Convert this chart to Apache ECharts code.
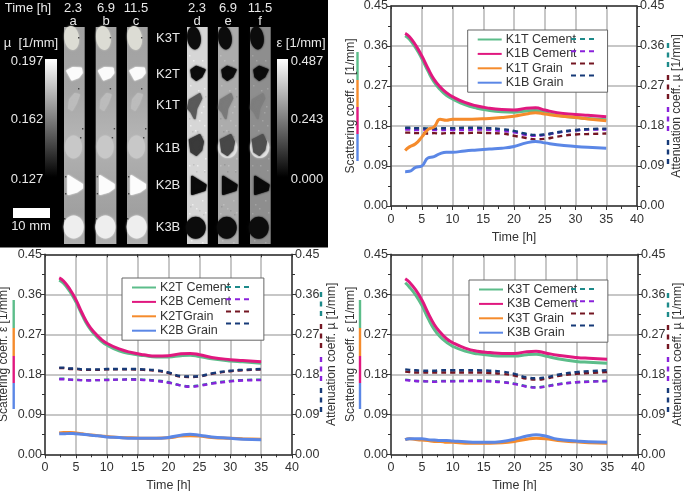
<!DOCTYPE html>
<html><head><meta charset="utf-8">
<style>html,body{margin:0;padding:0;background:#fff}#c{width:685px;height:491px}</style>
<script src="https://cdn.jsdelivr.net/npm/echarts@6/dist/echarts.min.js"></script>
</head><body><div id="c"></div>
<script>
const time=[2.3,3,4,5,6,7,8,9,10,12,14,16,18,20,22,23.5,25,27,30,32,35];
const yTicks=[0,0.09,0.18,0.27,0.36,0.45];
// Panel K1
const k1tCement=[.383,.375,.356,.332,.304,.279,.262,.249,.241,.228,.22,.215,.212,.211,.214,.215,.21,.204,.199,.197,.194];
const k1bCement=[.3885,.381,.362,.338,.31,.285,.268,.255,.246,.233,.225,.22,.217,.216,.22,.221,.216,.21,.206,.204,.201];
const k1tGrain=[.125,.133,.14,.155,.172,.178,.195,.193,.195,.195,.196,.197,.199,.202,.207,.21,.207,.203,.199,.196,.192];
const k1bGrain=[.077,.078,.087,.09,.108,.111,.118,.121,.121,.124,.126,.128,.13,.134,.142,.145,.142,.138,.134,.132,.13];
const k1tCementMu=[.175,.175,.174,.174,.174,.173,.174,.174,.174,.175,.175,.174,.172,.168,.162,.159,.16,.165,.17,.172,.173];
const k1bCementMu=[.172,.172,.171,.171,.171,.171,.171,.171,.171,.171,.172,.171,.169,.166,.16,.158,.16,.165,.17,.172,.172];
const k1tGrainMu=[.165,.165,.164,.164,.163,.164,.163,.164,.164,.164,.165,.164,.163,.158,.153,.15,.151,.156,.161,.162,.163];
const k1bGrainMu=[.176,.176,.175,.175,.174,.174,.175,.175,.175,.176,.176,.175,.173,.169,.162,.16,.161,.166,.171,.173,.174];
// Panel K2
const k2tCement=[.392,.385,.367,.343,.314,.288,.27,.256,.246,.233,.226,.222,.219,.219,.222,.223,.22,.215,.21,.208,.205];
const k2bCement=[.397,.39,.372,.348,.318,.292,.274,.26,.25,.237,.229,.224,.221,.222,.226,.227,.224,.218,.213,.211,.208];
const k2tGrain=[.048,.049,.049,.048,.046,.044,.043,.041,.04,.038,.037,.036,.036,.037,.041,.042,.041,.038,.036,.035,.034];
const k2bGrain=[.046,.046,.047,.046,.045,.044,.042,.041,.039,.038,.036,.036,.036,.038,.043,.045,.043,.039,.036,.034,.033];
const k2tCementMu=[.17,.17,.168,.168,.167,.167,.167,.167,.168,.168,.169,.168,.166,.162,.155,.153,.155,.16,.165,.167,.168];
const k2bCementMu=[.169,.169,.168,.167,.167,.166,.167,.167,.167,.168,.168,.167,.165,.161,.155,.152,.154,.159,.164,.166,.167];
const k2tGrainMu=[.194,.194,.192,.192,.19,.19,.19,.19,.191,.191,.191,.19,.188,.183,.175,.174,.175,.181,.187,.189,.191];
const k2bGrainMu=[.195,.195,.193,.193,.191,.191,.191,.191,.192,.192,.192,.191,.189,.184,.176,.175,.176,.182,.188,.19,.192];
// Panel K3
const k3tCement=[.386,.376,.358,.335,.306,.281,.264,.252,.243,.232,.226,.223,.221,.221,.224,.225,.221,.215,.209,.207,.205];
const k3bCement=[.395,.387,.37,.347,.318,.292,.274,.26,.251,.239,.232,.229,.227,.227,.231,.232,.228,.223,.218,.216,.214];
const k3tGrain=[.033,.035,.033,.032,.031,.029,.029,.027,.027,.025,.025,.025,.026,.029,.034,.036,.035,.031,.028,.026,.025];
const k3bGrain=[.033,.035,.035,.035,.033,.032,.031,.031,.03,.028,.027,.027,.029,.034,.041,.044,.041,.034,.03,.028,.027];
const k3tCementMu=[.168,.167,.165,.165,.164,.164,.165,.165,.165,.165,.166,.165,.163,.159,.153,.151,.153,.158,.162,.164,.165];
const k3bCementMu=[.167,.166,.165,.164,.164,.163,.164,.164,.164,.165,.165,.164,.162,.158,.152,.15,.152,.157,.162,.163,.165];
const k3tGrainMu=[.186,.185,.184,.184,.184,.184,.184,.184,.184,.184,.184,.183,.181,.177,.17,.168,.17,.176,.181,.183,.185];
const k3bGrainMu=[.191,.19,.189,.188,.188,.188,.189,.189,.189,.189,.189,.188,.186,.181,.173,.171,.173,.179,.185,.187,.189];

const GREEN='#5cbd8a',PINK='#e0187f',ORANGE='#f58b2c',BLUE='#5b87e6';
const TEAL='#1d8a8a',PURPLE='#8a22dc',DRED='#741622',NAVY='#163a78';
const FONT='"Liberation Sans",Arial,sans-serif';

const panels=[
 {left:391,right:637,top:6,bottom:206,
  names:['K1T Cement','K1B Cement','K1T Grain','K1B Grain'],
  solid:[k1tCement,k1bCement,k1tGrain,k1bGrain],dash:[k1tCementMu,k1bCementMu,k1tGrainMu,k1bGrainMu],
  box:[467.7,30,131],dashLeft:570,bar:{x:357.5,ys:[52,80,107,134,161]},rbar:{x:668,ys:[43,70,75,103,107,133,140,165]},gapL:34,gapR:34},
 {left:45,right:292,top:254.3,bottom:454.3,
  names:['K2T Cement','K2B Cement','K2TGrain','K2B Grain'],
  solid:[k2tCement,k2bCement,k2tGrain,k2bGrain],dash:[k2tCementMu,k2bCementMu,k2tGrainMu,k2bGrainMu],
  box:[122,278,133],dashLeft:225,bar:{x:13.7,ys:[300,328,356,383,409]},rbar:{x:321,ys:[292,318,324,351,357,382,388,415]},gapL:35,gapR:34},
 {left:391,right:638,top:254.3,bottom:454.3,
  names:['K3T Cement','K3B Cement','K3T Grain','K3B Grain'],
  solid:[k3tCement,k3bCement,k3tGrain,k3bGrain],dash:[k3tCementMu,k3bCementMu,k3tGrainMu,k3bGrainMu],
  box:[469,280,130],dashLeft:570,bar:{x:360,ys:[300,328,356,383,409]},rbar:{x:668,ys:[293,318,325,352,357,382,388,413]},gapL:34,gapR:34}
];
const solidColors=[GREEN,PINK,ORANGE,BLUE];
const dashColors=[TEAL,PURPLE,DRED,NAVY];
const axisCol='#333';

const grid=[],xAxis=[],yAxis=[],series=[],legend=[],graphic=[];
panels.forEach((p,i)=>{
  grid.push({left:p.left,top:p.top,width:p.right-p.left,height:p.bottom-p.top,outerBoundsMode:'none'});
  const split={show:true,lineStyle:{color:'#b4b4b4',width:1.5}};
  xAxis.push({type:'value',gridIndex:i,min:0,max:40,interval:5,position:'bottom',name:'Time [h]',nameLocation:'middle',nameGap:25,
    nameTextStyle:{fontFamily:FONT,fontSize:12.5,color:axisCol},
    axisLine:{onZero:false,lineStyle:{color:axisCol,width:1.5}},axisTick:{length:4,lineStyle:{color:axisCol,width:1}},
    minorTick:{show:true,splitNumber:2,length:3,lineStyle:{color:axisCol}},
    axisLabel:{fontFamily:FONT,fontSize:12.5,color:axisCol,margin:7},splitLine:split});
  xAxis.push({type:'value',gridIndex:i,min:0,max:40,interval:5,position:'top',
    axisLine:{onZero:false,lineStyle:{color:axisCol,width:1.5}},axisTick:{inside:true,length:3,lineStyle:{color:axisCol}},
    axisLabel:{show:false},splitLine:{show:false}});
  const y={type:'value',gridIndex:i,min:yTicks[0],max:yTicks[5],interval:yTicks[1],nameLocation:'middle',nameRotate:90,
    nameTextStyle:{fontFamily:FONT,fontSize:12,color:axisCol},
    axisLine:{onZero:false,show:true,lineStyle:{color:axisCol,width:1.5}},axisTick:{show:true,length:4,lineStyle:{color:axisCol}},
    minorTick:{show:true,splitNumber:2,length:3,lineStyle:{color:axisCol}},
    axisLabel:{fontFamily:FONT,fontSize:12.5,color:axisCol,margin:3,formatter:v=>v.toFixed(2)}};
  yAxis.push(Object.assign({},y,{position:'left',name:'Scattering coeff. ε [1/mm]',nameGap:p.gapL,splitLine:split}));
  yAxis.push(Object.assign({},y,{position:'right',name:'Attenuation coeff. µ [1/mm]',nameGap:p.gapR,splitLine:{show:false}}));
  const xb=i*2,yl=i*2,yr=i*2+1;
  p.dash.forEach((d,k)=>series.push({type:'line',name:p.names[k]+' µ',xAxisIndex:xb,yAxisIndex:yr,showSymbol:false,symbol:'none',smooth:0.5,
    z:3,lineStyle:{color:dashColors[k],width:2.4,type:[5,4]},itemStyle:{color:dashColors[k]},data:d.map((v,j)=>[time[j],v])}));
  p.solid.forEach((d,k)=>series.push({type:'line',name:p.names[k],xAxisIndex:xb,yAxisIndex:yl,showSymbol:false,symbol:'none',smooth:0.5,
    z:4,lineStyle:{color:solidColors[k],width:3},itemStyle:{color:solidColors[k]},data:d.map((v,j)=>[time[j],v])}));
  const hidden={color:'transparent',borderWidth:0,opacity:0};
  legend.push({left:p.box[0],top:p.box[1],orient:'vertical',data:p.names,itemWidth:24,itemHeight:12,itemGap:1.4,itemStyle:hidden,
    padding:[3,p.box[2]-100,3,9],backgroundColor:'#fff',borderColor:'#666',borderWidth:1,selectedMode:false,
    textStyle:{fontFamily:FONT,fontSize:12.5,color:axisCol,padding:[0,0,0,-1]}});
  legend.push({left:p.dashLeft,top:p.box[1],orient:'vertical',data:p.names.map(n=>n+' µ'),itemWidth:25,itemHeight:12,itemGap:1.4,itemStyle:hidden,
    padding:[3,0,3,0],selectedMode:false,formatter:()=>'',z:8});
  // colour keys beside the axis titles
  p.bar.ys.slice(0,4).forEach((y0,k)=>graphic.push({type:'line',shape:{x1:p.bar.x,y1:y0,x2:p.bar.x,y2:p.bar.ys[k+1]},
    style:{stroke:[GREEN,ORANGE,PINK,BLUE][k],lineWidth:2.4}}));
  [TEAL,DRED,PURPLE,NAVY].forEach((c,k)=>graphic.push({type:'line',shape:{x1:p.rbar.x,y1:p.rbar.ys[k*2],x2:p.rbar.x,y2:p.rbar.ys[k*2+1]},
    style:{stroke:c,lineWidth:2.4,lineDash:[5,4.5]}}));
});

// --- image panel (decorative tomogram strips) ---
const stripsMu=[64,95.7,127], stripsEps=[187,218,250];
const stripTop=27, stripBottom=244, stripWidth=20.7;
const epsBack=['#d6d6d6','#acacac','#8e8e8e'];
const epsK1T=['#5a5a5a','#7a7a7a','#7e7e7e'];
const epsK1B=['#3a3a3a','#484848','#505050'];
const muK2T=[[3.3,71],[9,68],[17,68.5],[17.7,73],[14.5,77],[8,79.5],[5.5,75]];
const muK1T=[[6,100],[11,94],[15,95],[12,103],[8,110],[5,108]];
const muK2B=[[4.3,176],[18,184.5],[18,188],[13,191.5],[4.3,194]];
const epsK2T=[[4.3,70],[9.3,66.7],[17.7,70],[14.3,76.7],[9.3,80],[5.3,76.7]];
const epsK1Tp=[[2.7,100],[12.7,94],[14.3,98.3],[9.3,108.3],[7.7,118.3],[4.3,111.7],[1,108.3]];
const epsK1Bp=[[2.7,140],[12.7,135],[16,141.7],[14.3,150],[9.3,155],[4.3,151.7]];
const epsK2B=[[5,176.7],[18.7,185],[17.7,190],[5,194]];
const speckle=[[2,55],[15,60],[3,85],[17,88],[14,112],[17,125],[3,125],[8,130],[18,158],[2,165],[10,165],[5,204],[15,200],[9,208],[2,213],[18,212],[6,60],[11,90],[16,106],[1,140],[17,170],[12,120],[4,240],[15,242]];
const muDots=[[14,37],[18,128],[16,137],[1,176],[1,193],[0,218],[14,88]];

const gfx=[];
const rect=(x,y,w,h,fill)=>gfx.push({type:'rect',shape:{x,y,width:w,height:h},style:{fill}});
const blur=(c,b)=>({fill:c,shadowBlur:b==null?2:b,shadowColor:c});
const poly=(x0,pts,c)=>gfx.push({type:'polygon',shape:{points:pts.map(q=>[x0+q[0],q[1]])},
  style:Object.assign(blur(c),{stroke:c,lineWidth:2,lineJoin:'round'})});
const ell=(cx,cy,rx,ry,c,rot)=>gfx.push({type:'ellipse',shape:{cx,cy,rx,ry},rotation:rot||0,originX:cx,originY:cy,style:blur(c)});
const txt=(x,y,t,fs,align)=>gfx.push({type:'text',x,y,style:{text:t,fill:'#e8e8e8',font:(fs||13)+'px '+FONT,align:align||'center',verticalAlign:'middle'}});

rect(0,0,328,247.5,'#000');
stripsMu.forEach(x0=>{
  gfx.push({type:'rect',shape:{x:x0,y:stripTop,width:stripWidth,height:stripBottom-stripTop},
    style:{fill:new echarts.graphic.LinearGradient(0,0,0,1,[{offset:0,color:'#a2a2a2'},{offset:.3,color:'#a6a6a6'},{offset:.5,color:'#b4b4b4'},{offset:.7,color:'#a8a8a8'},{offset:.85,color:'#a0a0a0'},{offset:1,color:'#b0b0b0'}])}});
  ell(x0+7.7,38,7.3,12,'#dcdcd4',0.12);
  poly(x0,muK2T,'#fbfbfb');
  poly(x0,muK1T,'#bcbcbc');
  ell(x0+9.5,147,8.5,11.5,'#c8c8c8');
  poly(x0,muK2B,'#fcfcfc');
  ell(x0+9.7,227,10,11.5,'#eeeeee');
  muDots.forEach(d=>gfx.push({type:'rect',shape:{x:x0+d[0],y:d[1],width:1.4,height:1.4},style:{fill:'#444'}}));
});
stripsEps.forEach((x0,i)=>{
  rect(x0,stripTop,stripWidth,stripBottom-stripTop,epsBack[i]);
  speckle.forEach(d=>gfx.push({type:'rect',shape:{x:x0+d[0],y:d[1],width:1.5,height:1.5},style:{fill:i==0?'#f2f2f2':'#c2c2c2',opacity:i==2?.4:.8}}));
  speckle.slice(4,18).forEach(d=>gfx.push({type:'rect',shape:{x:x0+(d[0]+7)%19,y:d[1]+6,width:1.5,height:1.5},style:{fill:i==0?'#b4b4b4':'#8c8c8c',opacity:.6}}));
  ell(x0+7,38,6.8,11.5,'#0c0c0c',0.12);
  poly(x0,epsK2T,'#0c0c0c');
  poly(x0,epsK1Tp,epsK1T[i]);
  if(i>0) ell(x0+9.7,147.5,9.6,10.5,'#e2e2e2');
  poly(x0,epsK1Bp,epsK1B[i]);
  poly(x0,epsK2B,'#0a0a0a');
  ell(x0+8.7,227.7,10,11,'#0c0c0c');
});
// gradient scales
[[45,57],[277,288]].forEach(b=>gfx.push({type:'rect',shape:{x:b[0],y:59,width:b[1]-b[0],height:118},
  style:{fill:new echarts.graphic.LinearGradient(0,0,0,1,[{offset:0,color:'#ffffff'},{offset:1,color:'#000000'}])}}));
rect(13,208,37,10,'#fff');
txt(28,8,'Time [h]');
[[73,'2.3','a'],[106,'6.9','b'],[136,'11.5','c'],[197,'2.3','d'],[228,'6.9','e'],[260,'11.5','f']].forEach(t=>{txt(t[0],8,t[1]);txt(t[0],21,t[2]);});
[['K3T',38],['K2T',74],['K1T',105],['K1B',148],['K2B',185],['K3B',227]].forEach(t=>txt(168,t[1],t[0]));
txt(31,43,'µ  [1/mm]'); txt(301,43,'ε [1/mm]');
txt(27,61,'0.197');txt(27,119,'0.162');txt(27,179,'0.127');
txt(307,61,'0.487');txt(307,119,'0.243');txt(307,179,'0.000');
txt(31,226,'10 mm');

const chart=echarts.init(document.getElementById('c'),null,{renderer:'canvas'});
chart.setOption({animation:false,backgroundColor:'#fff',textStyle:{fontFamily:FONT},grid,xAxis,yAxis,series,legend,
  graphic:{elements:gfx.concat(graphic)}});
</script></body></html>
